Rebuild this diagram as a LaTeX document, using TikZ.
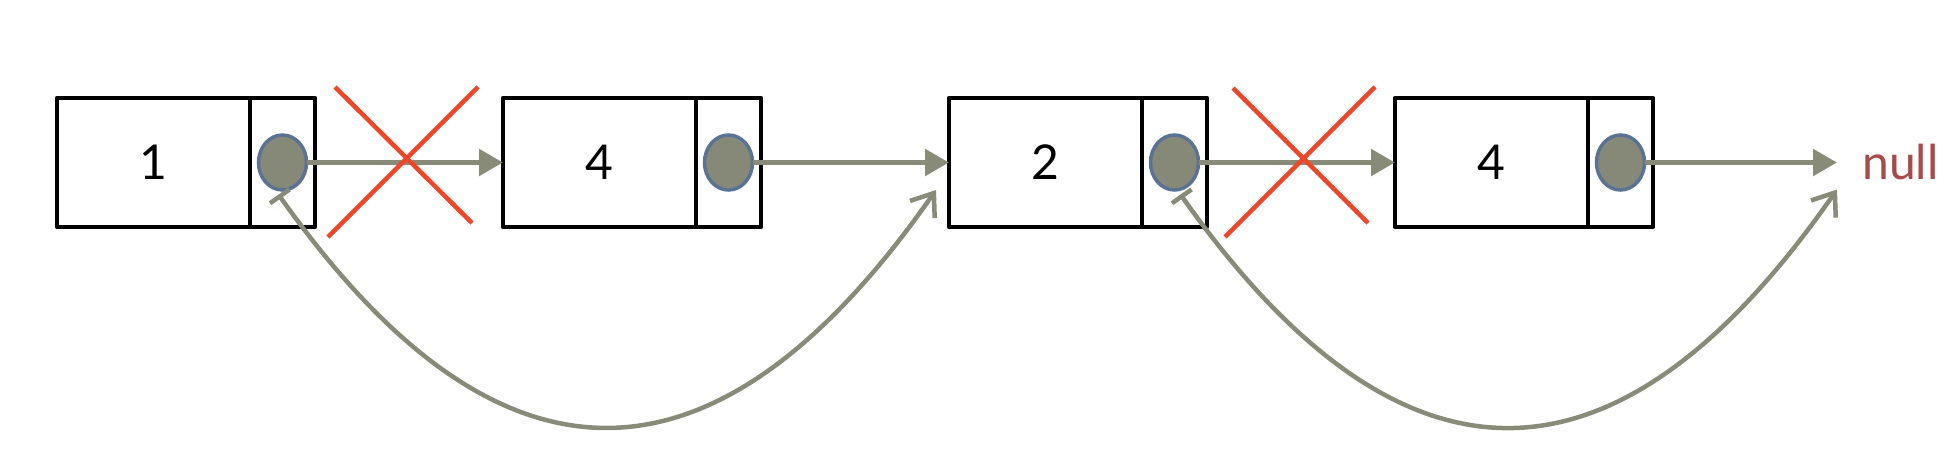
\documentclass[tikz,border=0pt]{standalone}
\usepackage{fontspec}
\setmainfont{Lato}
\usetikzlibrary{arrows.meta,shapes.geometric,calc}
\definecolor{ptrgray}{HTML}{898B79}
\definecolor{dotfill}{HTML}{878978}
\definecolor{dotedge}{HTML}{5A7394}
\definecolor{xred}{HTML}{EE4626}
\definecolor{nullred}{HTML}{A84A4A}
\begin{document}
\begin{tikzpicture}[x=1pt,y=-1pt,
  cell/.style={draw=black,line width=4.5pt,line join=round,inner sep=0pt,outer sep=0pt,minimum height=129pt},
  datacell/.style={cell,minimum width=193pt,font=\fontsize{48}{48}\selectfont},
  ptrcell/.style={cell,minimum width=65pt},
  dot/.style={ellipse,fill=dotfill,draw=dotedge,line width=3.5pt,minimum width=48pt,minimum height=55pt,inner sep=0pt,outer sep=0pt},
  link/.style={draw=ptrgray,line width=5.5pt,-{Triangle[length=24pt,width=26pt]}},
  jump/.style={draw=ptrgray,line width=4.5pt,{Bar[width=24pt]}-{Straight Barb[length=20pt,width=30pt]}},
  cross/.style={draw=xred,line width=4.5pt},
  nulltext/.style={anchor=base west,inner sep=0pt,text=nullred,font=\fontsize{48}{48}\selectfont}
]
\useasboundingbox (0,0) rectangle (1960,456);

% nodes
\node[datacell] (d1) at (153.5,162.5) {1};
\node[ptrcell,anchor=west] (p1) at (d1.east) {};
\node[dot] (c1) at (p1.center) {};

\node[datacell] (d2) at (599.5,162.5) {4};
\node[ptrcell,anchor=west] (p2) at (d2.east) {};
\node[dot] (c2) at (p2.center) {};

\node[datacell] (d3) at (1045.5,162.5) {2};
\node[ptrcell,anchor=west] (p3) at (d3.east) {};
\node[dot] (c3) at (p3.center) {};

\node[datacell] (d4) at (1491.5,162.5) {4};
\node[ptrcell,anchor=west] (p4) at (d4.east) {};
\node[dot] (c4) at (p4.center) {};

\coordinate (n) at (1837,162.5);
\node[nulltext] (null) at (1862,179) {null};

% straight links
\draw[link] (c1.east) -- (d2.west);
\draw[link] (c2.east) -- (d3.west);
\draw[link] (c3.east) -- (d4.west);
\draw[link] (c4.east) -- (n);

% curved links
\draw[jump] ($(c1.center)+(-4,32)$) .. controls +(220,311) and +(-220,315) .. ($(d3.west)+(-13,27.5)$);
\draw[jump] ($(c3.center)+(6,32)$) .. controls +(220,311) and +(-220,316) .. ($(n)+(0,27)$);

% crosses
\draw[cross] (335,87) -- (472,223);
\draw[cross] (478,87) -- (328,237);
\draw[cross] (1233,88) -- (1368,223);
\draw[cross] (1375,87) -- (1225,237);
\end{tikzpicture}
\end{document}
